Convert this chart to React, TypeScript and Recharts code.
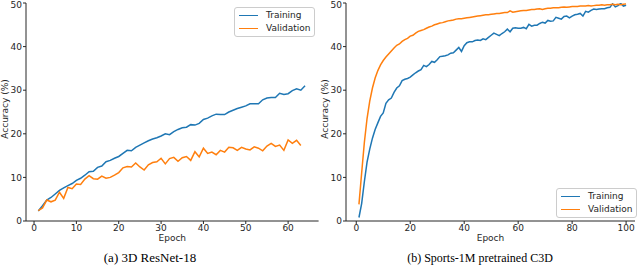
import { LineChart, Line, XAxis, YAxis, Legend } from "recharts";

const BLUE = "#1f77b4";
const ORANGE = "#ff7f0e";
const INK = "#262626";
const AXIS_FONT = "'DejaVu Sans', sans-serif";

// (a) 3D ResNet-18, one value per epoch starting at 1
const resnetTrain = [
  2.3, 3.5, 4.8, 5.4, 6.2, 7.0, 7.6, 8.1, 8.6, 9.3,
  9.8, 10.5, 11.3, 11.4, 12.3, 12.6, 13.6, 13.9, 14.4, 14.8,
  15.5, 16.2, 16.1, 16.9, 17.4, 17.9, 18.4, 18.8, 19.1, 19.5,
  20.0, 19.8, 20.5, 21.0, 21.4, 21.5, 22.1, 22.0, 22.4, 23.3,
  23.6, 24.1, 24.5, 24.4, 24.4, 25.0, 25.4, 25.8, 26.1, 26.4,
  26.9, 26.9, 26.9, 27.8, 28.2, 28.3, 28.3, 29.3, 29.0, 29.2,
  29.9, 30.3, 30.0, 31.0
];
const resnetVal = [
  2.4, 3.0, 4.8, 4.4, 4.8, 6.6, 5.2, 7.7, 7.4, 8.5,
  8.4, 9.6, 10.4, 9.7, 9.6, 10.3, 9.8, 10.0, 10.5, 11.1,
  12.2, 12.5, 12.4, 13.3, 12.4, 11.7, 12.9, 13.4, 13.6, 14.4,
  13.1, 14.3, 14.6, 13.7, 14.5, 14.8, 13.9, 15.9, 14.7, 16.7,
  15.5, 15.8, 15.2, 16.2, 15.8, 16.9, 16.8, 16.2, 16.9, 16.5,
  16.3, 17.0, 16.7, 16.1, 17.2, 17.8, 17.1, 17.4, 16.2, 18.6,
  17.8, 18.5, 17.3
];

// (b) Sports-1M pretrained C3D
const c3dTrain = [
  0.8, 4.0, 9.0, 13.5, 16.5, 19.0, 21.0, 22.5, 24.0, 24.8,
  27.0, 27.8, 28.2, 29.5, 30.5, 31.0, 32.2, 32.5, 32.7, 33.0,
  33.5, 34.0, 34.4, 34.7, 35.7, 35.4, 35.9, 36.6, 36.4, 37.0,
  37.7, 37.8, 37.9, 38.1, 38.5, 38.6, 39.2, 39.8, 38.9, 40.2,
  40.9, 41.1, 41.1, 41.4, 41.5, 41.4, 41.8, 41.6, 42.1, 42.6,
  43.1, 42.8, 42.5, 43.0, 43.4, 44.0, 43.4, 44.2, 44.3, 44.2,
  44.2, 44.4, 44.1, 45.1, 44.7, 44.9, 44.9, 45.3, 45.6, 45.4,
  46.0, 45.8, 45.9, 46.7, 46.5, 46.3, 46.9, 47.0, 46.6, 47.0,
  47.3, 47.4, 47.6, 47.0, 48.1, 47.9, 48.3, 48.6, 48.5, 48.6,
  48.7, 48.7, 48.9, 49.0, 49.8, 49.1, 49.4, 49.9, 49.3, 49.5
];
const c3dVal = [
  3.8, 11.0, 18.0, 23.5, 27.5, 30.5, 32.8, 34.5, 35.8, 36.8,
  37.6, 38.3, 39.0, 39.7, 40.3, 40.6, 41.2, 41.6, 41.9, 42.4,
  42.6, 43.1, 43.5, 43.7, 43.9, 44.2, 44.5, 44.7, 45.0, 45.2,
  45.4, 45.5, 45.7, 45.9, 46.0, 46.1, 46.3, 46.4, 46.4, 46.5,
  46.6, 46.7, 46.8, 46.9, 47.0, 47.1, 47.2, 47.3, 47.3, 47.4,
  47.5, 47.6, 47.6, 47.7, 47.8, 47.8, 48.2, 47.9, 48.0, 48.1,
  48.2, 48.3, 48.3, 48.4, 48.5, 48.5, 48.6, 48.7, 48.5, 48.7,
  48.8, 48.8, 48.9, 48.9, 48.9, 49.0, 49.1, 49.0, 49.1, 49.2,
  49.2, 49.2, 49.3, 49.3, 49.3, 49.4, 49.3, 49.4, 49.5, 49.5,
  49.6, 49.5, 49.6, 49.6, 49.7, 49.6, 49.7, 49.6, 49.7, 49.8
];

const accuracyTicks = [0, 10, 20, 30, 40, 50];
const resnetEpochTicks = [0, 10, 20, 30, 40, 50, 60];
const c3dEpochTicks = [0, 20, 40, 60, 80, 100];

function toRows(train: number[], val: number[]) {
  const n = Math.max(train.length, val.length);
  return Array.from({ length: n }, (_, i) => ({
    epoch: i + 1,
    train: train[i],
    val: val[i]
  }));
}

const tickStyle = { fontSize: 9, fill: INK, fontFamily: AXIS_FONT };

function LegendBox() {
  const row = (color: string, label: string) => (
    <div style={{ display: "flex", alignItems: "center", height: 13 }}>
      <span style={{ width: 19, height: 0, borderTop: `1.5px solid ${color}`, marginRight: 8 }} />
      <span>{label}</span>
    </div>
  );
  return (
    <div
      style={{
        border: "1px solid #cccccc",
        borderRadius: 3,
        background: "rgba(255,255,255,0.8)",
        padding: "1px 4px",
        fontFamily: AXIS_FONT,
        fontSize: 9,
        color: INK,
        lineHeight: "13px",
        width: "max-content"
      }}
    >
      {row(BLUE, "Training")}
      {row(ORANGE, "Validation")}
    </div>
  );
}

function YTitle(props: any) {
  const vb = props.viewBox;
  const cx = 5;
  const cy = vb.y + vb.height / 2 - 3;
  return (
    <text
      x={cx}
      y={cy}
      transform={`rotate(-90 ${cx} ${cy})`}
      textAnchor="middle"
      dominantBaseline="central"
      fontSize={9}
      fontFamily={AXIS_FONT}
      fill={INK}
    >
      Accuracy (%)
    </text>
  );
}

function Panel({
  train,
  val,
  domain,
  ticks,
  width,
  marginRight,
  legendPos
}: {
  train: number[];
  val: number[];
  domain: [number, number];
  ticks: number[];
  width: number;
  marginRight: number;
  legendPos: { left: number; top: number };
}) {
  return (
    <LineChart
      width={width}
      height={266}
      data={toRows(train, val)}
      margin={{ top: 3, right: marginRight, bottom: 25, left: 0 }}
    >
      <XAxis
        dataKey="epoch"
        type="number"
        domain={domain}
        allowDataOverflow
        ticks={ticks}
        height={20}
        tickSize={3}
        tickMargin={1}
        stroke={INK}
        tick={tickStyle}
        label={{
          value: "Epoch",
          position: "bottom",
          offset: -6,
          style: { fontSize: 9, fill: INK, fontFamily: AXIS_FONT }
        }}
      />
      <YAxis
        type="number"
        domain={[0, 50]}
        allowDataOverflow
        ticks={accuracyTicks}
        width={26}
        tickSize={3}
        tickMargin={1}
        stroke={INK}
        tick={tickStyle}
        label={<YTitle />}
      />
      <Legend
        layout="vertical"
        align="center"
        verticalAlign="middle"
        content={() => <LegendBox />}
        wrapperStyle={{ position: "absolute", left: legendPos.left, top: legendPos.top, width: "auto", height: "auto", bottom: "auto", right: "auto" }}
      />
      <Line type="linear" dataKey="train" stroke={BLUE} strokeWidth={1.5} dot={false} isAnimationActive={false} />
      <Line type="linear" dataKey="val" stroke={ORANGE} strokeWidth={1.5} dot={false} isAnimationActive={false} />
    </LineChart>
  );
}

const captionStyle: React.CSSProperties = {
  position: "absolute",
  top: 251,
  fontFamily: "'Liberation Serif', 'Times New Roman', serif",
  fontSize: 12,
  color: "#000",
  textAlign: "center",
  whiteSpace: "nowrap"
};

export default function App() {
  return (
    <div style={{ position: "absolute", left: 0, top: 0, width: 640, height: 266, background: "#fff", overflow: "hidden" }}>
      <div style={{ position: "absolute", left: 0, top: 0 }}>
        <Panel
          train={resnetTrain}
          val={resnetVal}
          domain={[-1.9, 67.2]}
          ticks={resnetEpochTicks}
          width={330}
          marginRight={11.4}
          legendPos={{ left: 234, top: 7 }}
        />
      </div>
      <div style={{ position: "absolute", left: 320, top: 0 }}>
        <Panel
          train={c3dTrain}
          val={c3dVal}
          domain={[-3.8, 103.3]}
          ticks={c3dEpochTicks}
          width={320}
          marginRight={5}
          legendPos={{ left: 236, top: 188 }}
        />
      </div>
      <div style={{ ...captionStyle, left: 60, width: 180, fontSize: 13, top: 250 }}>(a) 3D ResNet-18</div>
      <div style={{ ...captionStyle, left: 380, width: 200 }}>(b) Sports-1M pretrained C3D</div>
    </div>
  );
}
